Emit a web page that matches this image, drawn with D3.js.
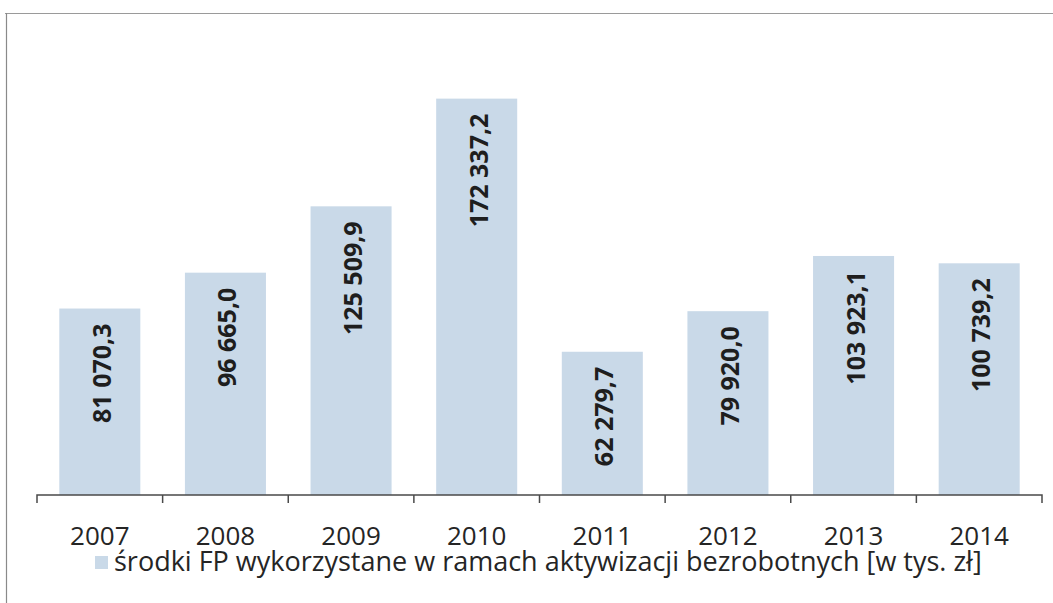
<!DOCTYPE html>
<html>
<head>
<meta charset="utf-8">
<script src="https://cdn.jsdelivr.net/npm/d3@7"></script>
<style>
  html, body { margin: 0; padding: 0; background: #fff; }
  svg { display: block; }
</style>
</head>
<body>
<svg id="chart" width="1053" height="603"></svg>
<script>
const years = ["2007", "2008", "2009", "2010", "2011", "2012", "2013", "2014"];
const values = [81070.3, 96665.0, 125509.9, 172337.2, 62279.7, 79920.0, 103923.1, 100739.2];
const valueLabels = ["81 070,3", "96 665,0", "125 509,9", "172 337,2", "62 279,7", "79 920,0", "103 923,1", "100 739,2"];
const legendLabel = "środki FP wykorzystane w ramach aktywizacji bezrobotnych [w tys. zł]";

const W = 1053, H = 603;
const svg = d3.select("#chart");
const font = "'Open Sans', 'Noto Sans', sans-serif";
const barColor = "#c9d9e8";

// chart frame (scanned border)
svg.append("line").attr("x1", 5).attr("x2", W).attr("y1", 13.5).attr("y2", 13.5)
  .attr("stroke", "#9a9a9a").attr("stroke-width", 1.2);
svg.append("line").attr("x1", 6.5).attr("x2", 6.5).attr("y1", 13).attr("y2", H)
  .attr("stroke", "#8a8a8a").attr("stroke-width", 1.2);

const x = d3.scaleBand().domain(years).range([37, 1042]).paddingInner(0.355).paddingOuter(0.1775);
const y = d3.scaleLinear().domain([0, 200000]).range([495, 35]);

const g = svg.append("g");

g.selectAll("rect.bar").data(years).join("rect")
  .attr("class", "bar")
  .attr("x", d => x(d))
  .attr("width", x.bandwidth())
  .attr("y", (d, i) => y(values[i]))
  .attr("height", (d, i) => y(0) - y(values[i]))
  .attr("fill", barColor);

// value labels, rotated, inside end
g.selectAll("text.val").data(years).join("text")
  .attr("class", "val")
  .attr("transform", (d, i) => `translate(${x(d) + x.bandwidth() / 2 + 2},${y(values[i]) + 15}) rotate(-90)`)
  .attr("text-anchor", "end")
  .attr("dy", "0.36em")
  .attr("font-family", font)
  .attr("font-weight", "bold")
  .attr("font-size", 25)
  .attr("fill", "#1e1e1e")
  .text((d, i) => valueLabels[i]);

// x axis
const axisStep = (1042 - 37) / years.length;
const xAxis = d3.axisBottom(x).tickSize(0).tickPadding(0).tickFormat(d => d);
const ax = svg.append("g").attr("transform", "translate(0,495)").call(xAxis);
ax.select(".domain").attr("stroke", "#4a4a4a").attr("stroke-width", 1.5)
  .attr("d", "M37,8V0H1042V8");
ax.selectAll(".tick line").remove();
ax.selectAll(".tick text")
  .attr("y", 50).attr("dy", 0)
  .attr("font-family", font).attr("font-size", 26).attr("fill", "#252525");
// tick marks at band boundaries
const boundaries = d3.range(1, years.length).map(i => x(years[i]) - x.step() * x.paddingInner() / 2);
ax.selectAll("line.bnd").data(boundaries).join("line")
  .attr("class", "bnd")
  .attr("x1", d => d).attr("x2", d => d).attr("y1", 0).attr("y2", 8)
  .attr("stroke", "#4a4a4a").attr("stroke-width", 1.5);

// legend
const legend = svg.append("g");
legend.append("rect").attr("x", 95).attr("y", 556).attr("width", 13).attr("height", 13).attr("fill", barColor);
const lt = legend.append("text").attr("x", 114).attr("y", 571)
  .attr("font-family", font).attr("font-size", 25).attr("fill", "#252525")
  .text(legendLabel);
const len = lt.node().getComputedTextLength();
lt.attr("font-size", 25 * 868 / len);
</script>
</body>
</html>
